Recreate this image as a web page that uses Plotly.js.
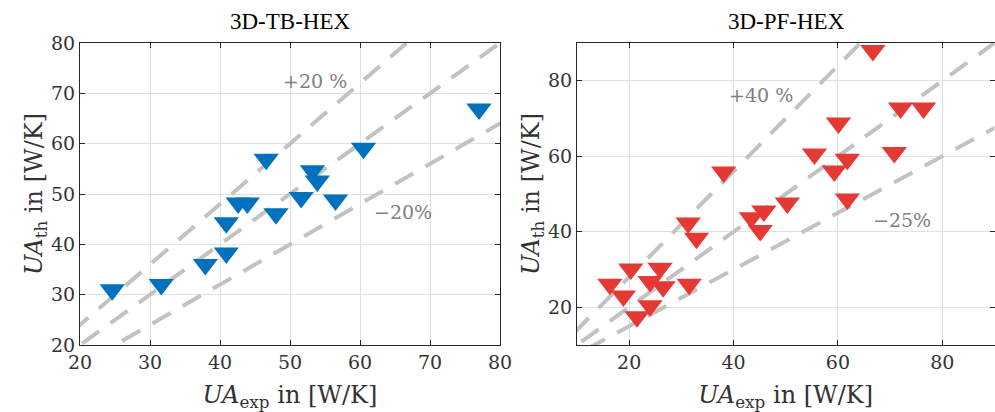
<!DOCTYPE html>
<html>
<head>
<meta charset="utf-8">
<script src="https://cdn.plot.ly/plotly-3.0.1.min.js"></script>
<style>html,body{margin:0;padding:0;background:#fff;}#chart{width:995px;height:412px;}</style>
</head>
<body>
<div id="chart"></div>
<script>
// ---- Data ----
const tbTitle = "3D-TB-HEX";
const tbExp = [24.6, 31.6, 37.9, 40.9, 40.9, 42.6, 43.9, 46.6, 48.0, 51.6, 53.2, 53.9, 56.5, 60.5, 77.0];
const tbTh  = [31.0, 32.0, 36.0, 38.3, 44.3, 48.2, 48.2, 56.9, 46.1, 49.3, 54.6, 52.6, 48.8, 59.1, 66.9];
const tbRatios = [1.2, 1.0, 0.8];
const tbLabels = ["+20 %", "\u221220%"];
const tbLabelX = [53.5, 66.2];
const tbLabelY = [72.5, 46.5];

const pfTitle = "3D-PF-HEX";
const pfExp = [66.7, 72.0, 76.4, 60.1, 55.5, 70.8, 61.8, 59.3, 61.8, 38.1, 50.3, 45.8, 43.4, 45.1, 31.3, 32.9, 31.5, 16.3, 20.3, 25.9, 24.0, 26.5, 18.9, 24.0, 21.5];
const pfTh  = [88.0, 72.8, 72.8, 68.8, 60.6, 61.0, 59.2, 56.1, 48.7, 55.8, 47.6, 45.5, 43.7, 40.3, 42.3, 38.3, 26.1, 26.1, 30.1, 30.3, 26.8, 25.4, 23.0, 20.4, 17.5];
const pfRatios = [1.4, 1.0, 0.75];
const pfLabels = ["+40 %", "\u221225%"];
const pfLabelX = [45.3, 72.2];
const pfLabelY = [76.1, 43.1];

const refX = [0, 100];

// ---- Styles ----
const cm = "DejaVu Serif";
const times = "Liberation Serif";
const refLine = {color: "#c2c2c2", width: 4, dash: "21px,14px"};

function refTraces(ratios, xa, ya) {
  return ratios.map(k => ({
    x: refX, y: refX.map(v => v * k), mode: "lines", type: "scatter",
    line: refLine, xaxis: xa, yaxis: ya, hoverinfo: "skip", showlegend: false
  }));
}

const traces = [
  ...refTraces(tbRatios, "x", "y"),
  ...refTraces(pfRatios, "x2", "y2"),
  {x: tbExp, y: tbTh, mode: "markers", type: "scatter", xaxis: "x", yaxis: "y",
   marker: {symbol: "triangle-down", size: 22, color: "#0072bd"}, showlegend: false},
  {x: pfExp, y: pfTh, mode: "markers", type: "scatter", xaxis: "x2", yaxis: "y2",
   marker: {symbol: "triangle-down", size: 22, color: "#e53935"}, showlegend: false}
];

function axis(range, tickvals, domain, anchor, title, standoff) {
  return {
    range: range, tickvals: tickvals, domain: domain, anchor: anchor,
    showgrid: true, gridcolor: "#e1e1e1", gridwidth: 1,
    zeroline: false, showline: true, linecolor: "#262626", linewidth: 1,
    mirror: "ticks", ticks: "inside", ticklen: 5, tickcolor: "#262626",
    tickfont: {family: cm, size: 19, color: "#333333"},
    title: {text: title, font: {family: cm, size: 24, color: "#333333"}, standoff: standoff},
    fixedrange: true
  };
}

const xTitle = "<i>UA</i><sub>exp</sub> in [W/K]";
const yTitle = "<i>UA</i><sub>th</sub> in [W/K]";

const yDom = [1 - 345/412, 1 - 43/412];
const annotations = [];
function addLabels(labels, lx, ly, xr, yr) {
  labels.forEach((t, i) => annotations.push({
    text: t, x: lx[i], y: ly[i], xref: xr, yref: yr, showarrow: false,
    xanchor: "center", yanchor: "middle",
    font: {family: cm, size: 19, color: "#808080"}
  }));
}
addLabels(tbLabels, tbLabelX, tbLabelY, "x", "y");
addLabels(pfLabels, pfLabelX, pfLabelY, "x2", "y2");
annotations.push({text: tbTitle, x: 290/995, y: 1 - 22/412, xref: "paper", yref: "paper",
  xanchor: "center", yanchor: "middle",
  showarrow: false, font: {family: times, size: 23, color: "#000"}});
annotations.push({text: pfTitle, x: 786/995, y: 1 - 22/412, xref: "paper", yref: "paper",
  xanchor: "center", yanchor: "middle",
  showarrow: false, font: {family: times, size: 23, color: "#000"}});

const layout = {
  width: 995, height: 412,
  margin: {l: 0, r: 0, t: 0, b: 0},
  paper_bgcolor: "#fff", plot_bgcolor: "#fff",
  font: {family: cm},
  showlegend: false,
  xaxis: axis([20, 80], [20, 30, 40, 50, 60, 70, 80], [80/995, 500/995], "y", xTitle, 18),
  yaxis: axis([20, 80], [20, 30, 40, 50, 60, 70, 80], yDom, "x", yTitle, 1),
  xaxis2: axis([10, 90], [20, 40, 60, 80], [577/995, 994.5/995], "y2", xTitle, 18),
  yaxis2: axis([10, 90], [20, 40, 60, 80], yDom, "x2", yTitle, 1),
  annotations: annotations
};

Plotly.newPlot("chart", traces, layout, {displayModeBar: false, staticPlot: true});
</script>
</body>
</html>
